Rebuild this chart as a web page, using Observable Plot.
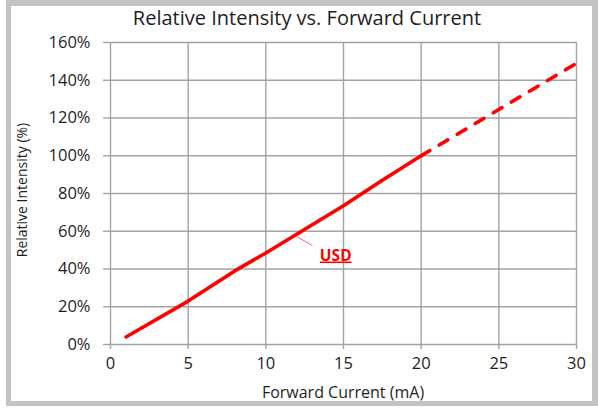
<!DOCTYPE html>
<html>
<head>
<meta charset="utf-8">
<script src="https://cdn.jsdelivr.net/npm/d3@7"></script>
<script src="https://cdn.jsdelivr.net/npm/@observablehq/plot@0.6"></script>
<style>
  html, body { margin: 0; padding: 0; background: #fff; }
  #wrap { position: relative; width: 598px; height: 408px; overflow: hidden; font-family: "Open Sans", sans-serif; color: #1e1e1e; }
  #frame { position: absolute; left: 6px; top: 0; width: 592px; height: 406px; box-sizing: border-box;
           border-style: solid; border-color: #c3c3c3; border-width: 6px 6px 5px 5px; pointer-events: none; z-index: 2; }
  .t { position: absolute; white-space: nowrap; z-index: 1; line-height: 1; }
  #title { left: 307px; top: 18px; transform: translate(-50%, -50%); font-size: 20px; color: #1e1e1e; }
  #xtitle { left: 343px; top: 392px; transform: translate(-50%, -50%); font-size: 16px; color: #1e1e1e; }
  #ytitle { left: 22px; top: 190px; transform: translate(-50%, -50%) rotate(-90deg); font-size: 14px; color: #1e1e1e; }
  #chart { position: absolute; left: 0; top: 0; }
</style>
</head>
<body>
<div id="wrap">
  <div id="chart"></div>
  <div class="t" id="title">Relative Intensity vs. Forward Current</div>
  <div class="t" id="xtitle">Forward Current (mA)</div>
  <div class="t" id="ytitle">Relative Intensity (%)</div>
  <div id="frame"></div>
</div>
<script>
// ---- data ----
const xTicks = [0, 5, 10, 15, 20, 25, 30];
const yTicks = [0, 20, 40, 60, 80, 100, 120, 140, 160];
const solidCurrent = [1, 5, 8, 10, 15, 17.5, 20];
const solidIntensity = [4, 23, 39, 48.5, 73.5, 87, 100];
const dashedCurrent = [20, 25, 30];
const dashedIntensity = [100, 124.5, 149];
const seriesName = "USD";
const leaderFrom = [12, 57.2];
const leaderTo = [13, 52.4];
const labelAt = [14.5, 44.5];

const solid = solidCurrent.map((c, i) => ({c, v: solidIntensity[i]}));
const dashed = dashedCurrent.map((c, i) => ({c, v: dashedIntensity[i]}));

const gridColor = "#a3a3a3";

const chart = Plot.plot({
  width: 598,
  height: 408,
  marginLeft: 110,
  marginRight: 22,
  marginTop: 42,
  marginBottom: 64,
  style: {fontFamily: "'Open Sans', sans-serif", fontSize: "16px", color: "#1e1e1e", background: "transparent", overflow: "visible"},
  x: {domain: [0, 30]},
  y: {domain: [0, 160]},
  marks: [
    Plot.gridX(xTicks, {stroke: gridColor, strokeOpacity: 1, strokeWidth: 1.4}),
    Plot.gridY(yTicks, {stroke: gridColor, strokeOpacity: 1, strokeWidth: 1.4}),
    Plot.axisX(xTicks, {tickSize: 5, tickPadding: 8, label: null, stroke: gridColor, strokeWidth: 1.4, fontSize: 16.5}),
    Plot.axisY(yTicks, {tickSize: 7, tickPadding: 13, label: null, stroke: gridColor, strokeWidth: 1.4,
      tickFormat: d => d + "%", fontSize: 16.5}),
    Plot.line(dashed, {x: "c", y: "v", stroke: "#ff0000", strokeWidth: 3.6, strokeDasharray: "10,11", strokeLinecap: "round"}),
    Plot.line(solid, {x: "c", y: "v", stroke: "#ff0000", strokeWidth: 3.6, strokeLinecap: "round", strokeLinejoin: "round"}),
    Plot.link([0], {x1: () => leaderFrom[0], y1: () => leaderFrom[1], x2: () => leaderTo[0], y2: () => leaderTo[1],
      stroke: "#ff6060", strokeWidth: 1}),
    Plot.text([seriesName], {x: () => labelAt[0], y: () => labelAt[1], text: d => d, fill: "#ff0000",
      fontWeight: "bold", fontSize: 15.5, textAnchor: "middle", lineAnchor: "bottom"})
  ]
});
chart.querySelectorAll("text").forEach(t => {
  if (t.textContent.trim() === seriesName) {
    t.style.textDecoration = "underline";
    t.setAttribute("text-decoration", "underline");
  }
});
document.getElementById("chart").appendChild(chart);
</script>
</body>
</html>
